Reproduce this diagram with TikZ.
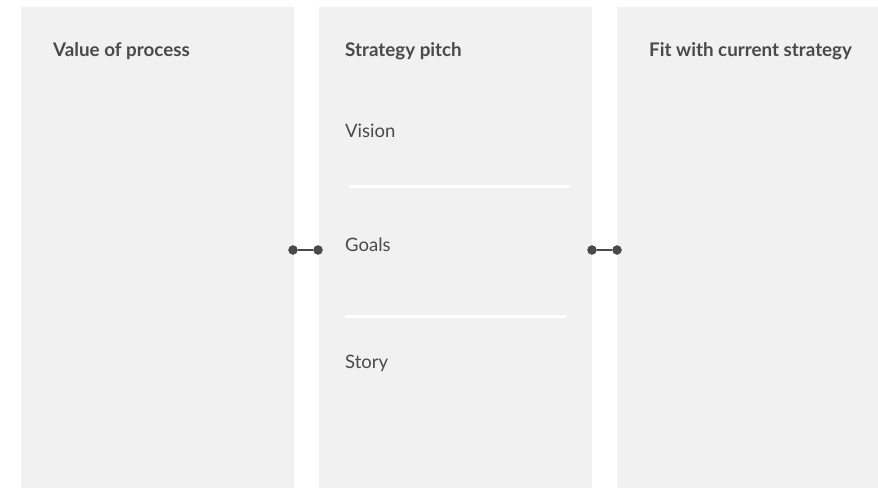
\documentclass[tikz,border=0pt]{standalone}
\usepackage{fontspec}
\setmainfont{Lato}
\definecolor{panelgray}{HTML}{F1F1F1}
\definecolor{inkgray}{HTML}{4A4A4A}

\begin{document}
\begin{tikzpicture}[x=1pt, y=-1pt,
		panel/.style={fill=panelgray, draw=none},
		heading/.style={anchor=base west, inner sep=0pt, text=inkgray, font=\fontsize{18.8}{22}\selectfont\bfseries},
		item/.style={anchor=base west, inner sep=0pt, text=inkgray, font=\fontsize{18.5}{22}\selectfont},
		dot/.style={circle, inner sep=0pt, minimum size=9pt, fill=inkgray, draw=inkgray},
		link/.style={inkgray, line width=2pt},
		rule/.style={white, line width=3pt}]
			\useasboundingbox (0,0) rectangle (878,488);
			\fill[panel] (21,7) rectangle (294,488);
			\fill[panel] (319,7) rectangle (592,488);
			\fill[panel] (617,7) rectangle (878,488);
			\node[heading](value) at (53,56){Value of process};
			\node[heading](pitch) at (345,56){Strategy pitch};
			\node[heading](fit) at (649,56){Fit with current strategy};
			\node[item](vision) at (345,137){Vision};
			\node[item](goals) at (345,251){Goals};
			\node[item](story) at (345,368){Story};
			\coordinate (r1a) at (349,186);
			\coordinate (r1b) at (570,186);
			\coordinate (r2a) at (345,316);
			\coordinate (r2b) at (566,316);
			\draw[rule] (r1a) -- (r1b);
			\draw[rule] (r2a) -- (r2b);
			\node[dot](d1) at (293,250){};
			\node[dot](d2) at (318,250){};
			\node[dot](d3) at (592,250){};
			\node[dot](d4) at (617,250){};
			\draw[link] (d1) -- (d2);
			\draw[link] (d3) -- (d4);
			\end{tikzpicture}
\end{document}
